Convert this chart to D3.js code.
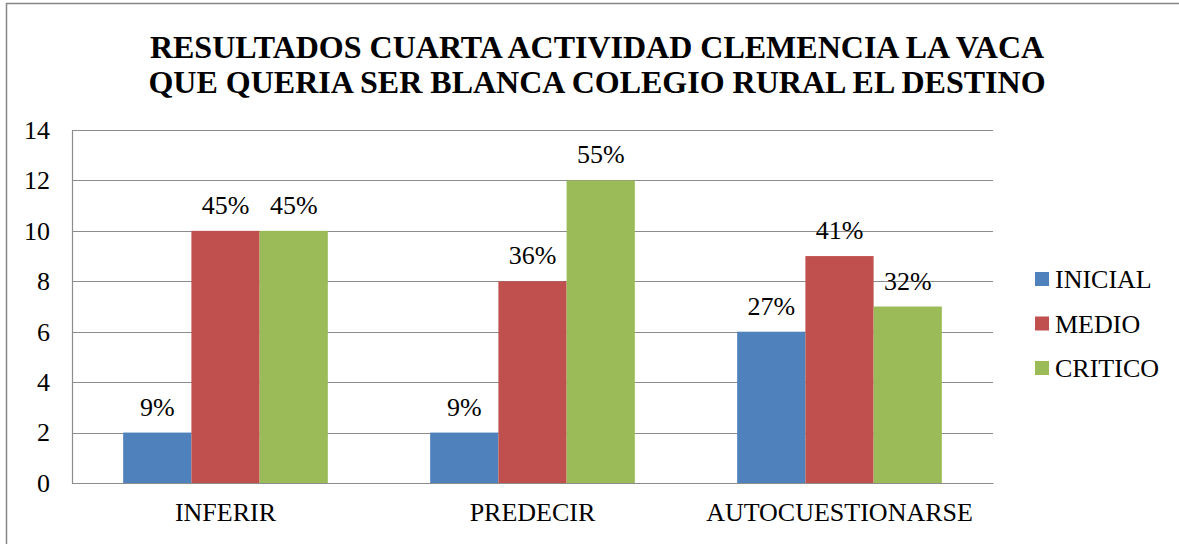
<!DOCTYPE html>
<html>
<head>
<meta charset="utf-8">
<script src="https://cdn.jsdelivr.net/npm/d3@7"></script>
<style>
  body { margin: 0; background: #fff; }
  svg { display: block; }
  svg text { font-family: "Liberation Serif", "Times New Roman", serif; fill: #000; }
</style>
</head>
<body>
<svg id="chart" width="1179" height="544"></svg>
<script>
var categories = ["INFERIR", "PREDECIR", "AUTOCUESTIONARSE"];
var seriesNames = ["INICIAL", "MEDIO", "CRITICO"];
var inicial = [2, 2, 6];
var medio = [10, 8, 9];
var critico = [10, 12, 7];
var pctInicial = ["9%", "9%", "27%"];
var pctMedio = ["45%", "36%", "41%"];
var pctCritico = ["45%", "55%", "32%"];
var yTicks = [0, 2, 4, 6, 8, 10, 12, 14];
var titleLines = ["RESULTADOS CUARTA ACTIVIDAD CLEMENCIA LA VACA",
                  "QUE QUERIA SER BLANCA COLEGIO RURAL EL DESTINO"];

var colors = ["#4F81BD", "#C0504D", "#9BBB59"];
var serif = "'Liberation Serif', 'Times New Roman', serif";

var svg = d3.select("#chart");

// outer chart border (only left and top visible)
svg.append("rect")
  .attr("x", 6.5).attr("y", 3.5)
  .attr("width", 1200).attr("height", 600)
  .attr("fill", "none")
  .attr("stroke", "#868686")
  .attr("stroke-width", 1.5);

svg.selectAll("text.title")
  .data(titleLines)
  .enter().append("text")
  .attr("class", "title")
  .attr("x", 597)
  .attr("y", function(d, i){ return 58 + i * 35; })
  .attr("text-anchor", "middle")
  .attr("font-family", serif)
  .attr("font-size", 32)
  .attr("font-weight", "bold")
  .text(function(d){ return d; });

var plotLeft = 72, plotRight = 993, plotTop = 130, plotBottom = 483;

var x = d3.scaleBand()
  .domain(categories)
  .range([plotLeft, plotRight]);

var x1 = d3.scaleBand()
  .domain(seriesNames)
  .range([0, x.bandwidth() * 3 / 4.5])
  .padding(0);

var y = d3.scaleLinear()
  .domain([0, 14])
  .range([plotBottom, plotTop]);

// gridlines
svg.append("g")
  .selectAll("line")
  .data(yTicks)
  .enter().append("line")
  .attr("x1", plotLeft).attr("x2", plotRight)
  .attr("y1", function(d){ return Math.round(y(d)) + 0.5; })
  .attr("y2", function(d){ return Math.round(y(d)) + 0.5; })
  .attr("stroke", "#8c8c8c")
  .attr("stroke-width", 1.2);

// y axis
var yAxis = svg.append("g")
  .attr("transform", "translate(" + plotLeft + ",0)")
  .call(d3.axisLeft(y).tickValues(yTicks).tickSize(0).tickPadding(22))
  .attr("font-family", serif);
yAxis.select(".domain").attr("stroke", "#8c8c8c").attr("stroke-width", 1.2);
yAxis.selectAll("text")
  .attr("font-family", serif)
  .attr("font-size", 26)
  .attr("fill", "#000");

// x axis labels
var xAxis = svg.append("g")
  .attr("transform", "translate(0," + plotBottom + ")")
  .call(d3.axisBottom(x).tickSize(0).tickPadding(20))
  .attr("font-family", serif);
xAxis.select(".domain").attr("stroke", "#8c8c8c").attr("stroke-width", 1.2);
xAxis.selectAll("text")
  .attr("font-family", serif)
  .attr("font-size", 26)
  .attr("fill", "#000");

var series = [inicial, medio, critico];
var pcts = [pctInicial, pctMedio, pctCritico];

var rows = [];
categories.forEach(function(c, i){
  seriesNames.forEach(function(s, j){
    rows.push({cat: c, ser: s, j: j, value: series[j][i], pct: pcts[j][i]});
  });
});

var offset = (x.bandwidth() - x1.range()[1]) / 2;

var bars = svg.append("g");
bars.selectAll("rect")
  .data(rows)
  .enter().append("rect")
  .attr("x", function(d){ return x(d.cat) + offset + x1(d.ser); })
  .attr("y", function(d){ return y(d.value); })
  .attr("width", x1.bandwidth())
  .attr("height", function(d){ return y(0) - y(d.value); })
  .attr("fill", function(d){ return colors[d.j]; });

bars.selectAll("text")
  .data(rows)
  .enter().append("text")
  .attr("x", function(d){ return x(d.cat) + offset + x1(d.ser) + x1.bandwidth() / 2; })
  .attr("y", function(d){ return y(d.value) - 17; })
  .attr("text-anchor", "middle")
  .attr("font-family", serif)
  .attr("font-size", 26)
  .text(function(d){ return d.pct; });

// legend
var legend = svg.append("g")
  .selectAll("g")
  .data(seriesNames)
  .enter().append("g")
  .attr("transform", function(d, i){ return "translate(1035," + (279 + i * 44.5) + ")"; });

legend.append("rect")
  .attr("x", 0).attr("y", -7)
  .attr("width", 14).attr("height", 14)
  .attr("fill", function(d, i){ return colors[i]; });

legend.append("text")
  .attr("x", 20).attr("y", 9)
  .attr("font-family", serif)
  .attr("font-size", 26)
  .text(function(d){ return d; });
</script>
</body>
</html>
